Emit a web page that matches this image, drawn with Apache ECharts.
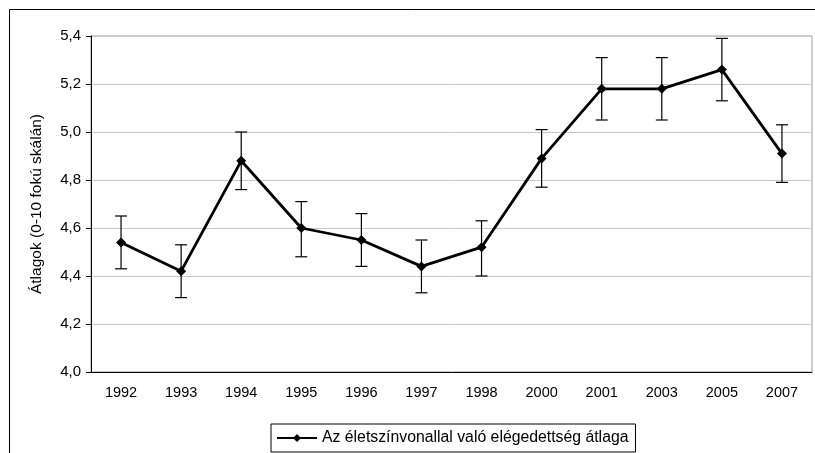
<!DOCTYPE html>
<html><head><meta charset="utf-8">
<script src="https://cdn.jsdelivr.net/npm/echarts@6/dist/echarts.min.js"></script>
<style>html,body{margin:0;padding:0;background:#fff}#c{width:815px;height:453px}</style>
</head><body><div id="c"></div>
<script>
const years = ['1992','1993','1994','1995','1996','1997','1998','2000','2001','2003','2005','2007'];
const means = [4.54, 4.42, 4.88, 4.60, 4.55, 4.44, 4.52, 4.89, 5.18, 5.18, 5.26, 4.91];
const lower = [4.43, 4.31, 4.76, 4.48, 4.44, 4.33, 4.40, 4.77, 5.05, 5.05, 5.13, 4.79];
const upper = [4.65, 4.53, 5.00, 4.71, 4.66, 4.55, 4.63, 5.01, 5.31, 5.31, 5.39, 5.03];
const seriesName = 'Az életszínvonallal való elégedettség átlaga';
const yTitle = 'Átlagok (0-10 fokú skálán)';

const font = 'Liberation Sans, Arial, sans-serif';
const chart = echarts.init(document.getElementById('c'), null, {renderer: 'canvas'});
const errData = years.map((y, i) => [i, lower[i], upper[i]]);
chart.setOption({
  animation: false,
  backgroundColor: '#fff',
  textStyle: {fontFamily: font},
  graphic: [{type: 'rect', shape: {x: 9.5, y: 9.5, width: 900, height: 600}, style: {fill: 'none', stroke: '#000', lineWidth: 1}, z: -10}],
  grid: {left: 91, top: 36, right: 3, bottom: 81, show: true, borderColor: '#9a9a9a', borderWidth: 1, backgroundColor: 'transparent'},
  legend: {
    left: 271, bottom: 1, data: [seriesName],
    borderColor: '#000', borderWidth: 1, padding: [6, 7, 6, 5],
    itemWidth: 40, itemHeight: 10, itemGap: 4,
    textStyle: {fontFamily: font, fontSize: 15.8, color: '#000'}
  },
  xAxis: {
    type: 'category', data: years, boundaryGap: true,
    axisLine: {lineStyle: {color: '#000', width: 1}},
    axisTick: {show: false},
    axisLabel: {color: '#000', fontSize: 14.5, fontFamily: font, margin: 13}
  },
  yAxis: {
    type: 'value', min: 4.0, max: 5.4, interval: 0.2,
    name: yTitle, nameLocation: 'middle', nameGap: 46, nameRotate: 90,
    nameTextStyle: {color: '#000', fontSize: 15.5, fontFamily: font},
    axisLine: {show: true, lineStyle: {color: '#000', width: 1}},
    axisTick: {show: true, length: 5, lineStyle: {color: '#000'}},
    splitLine: {lineStyle: {color: '#c8c8c8', width: 1}},
    axisLabel: {color: '#000', fontSize: 15, fontFamily: font, margin: 10,
      formatter: v => v.toFixed(1).replace('.', ',')}
  },
  series: [
    {
      type: 'custom', name: 'err', data: errData, z: 3, silent: true,
      renderItem: (params, api) => {
        const lo = api.coord([api.value(0), api.value(1)]);
        const hi = api.coord([api.value(0), api.value(2)]);
        const w = 6;
        const st = {stroke: '#000', lineWidth: 1.2};
        return {type: 'group', children: [
          {type: 'line', shape: {x1: lo[0], y1: lo[1], x2: hi[0], y2: hi[1]}, style: st},
          {type: 'line', shape: {x1: lo[0]-w, y1: lo[1], x2: lo[0]+w, y2: lo[1]}, style: st},
          {type: 'line', shape: {x1: hi[0]-w, y1: hi[1], x2: hi[0]+w, y2: hi[1]}, style: st}
        ]};
      }
    },
    {
      type: 'line', name: seriesName, data: means, z: 4,
      symbol: 'diamond', symbolSize: 10,
      lineStyle: {color: '#000', width: 2.8},
      itemStyle: {color: '#000'}
    }
  ]
});
</script></body></html>
